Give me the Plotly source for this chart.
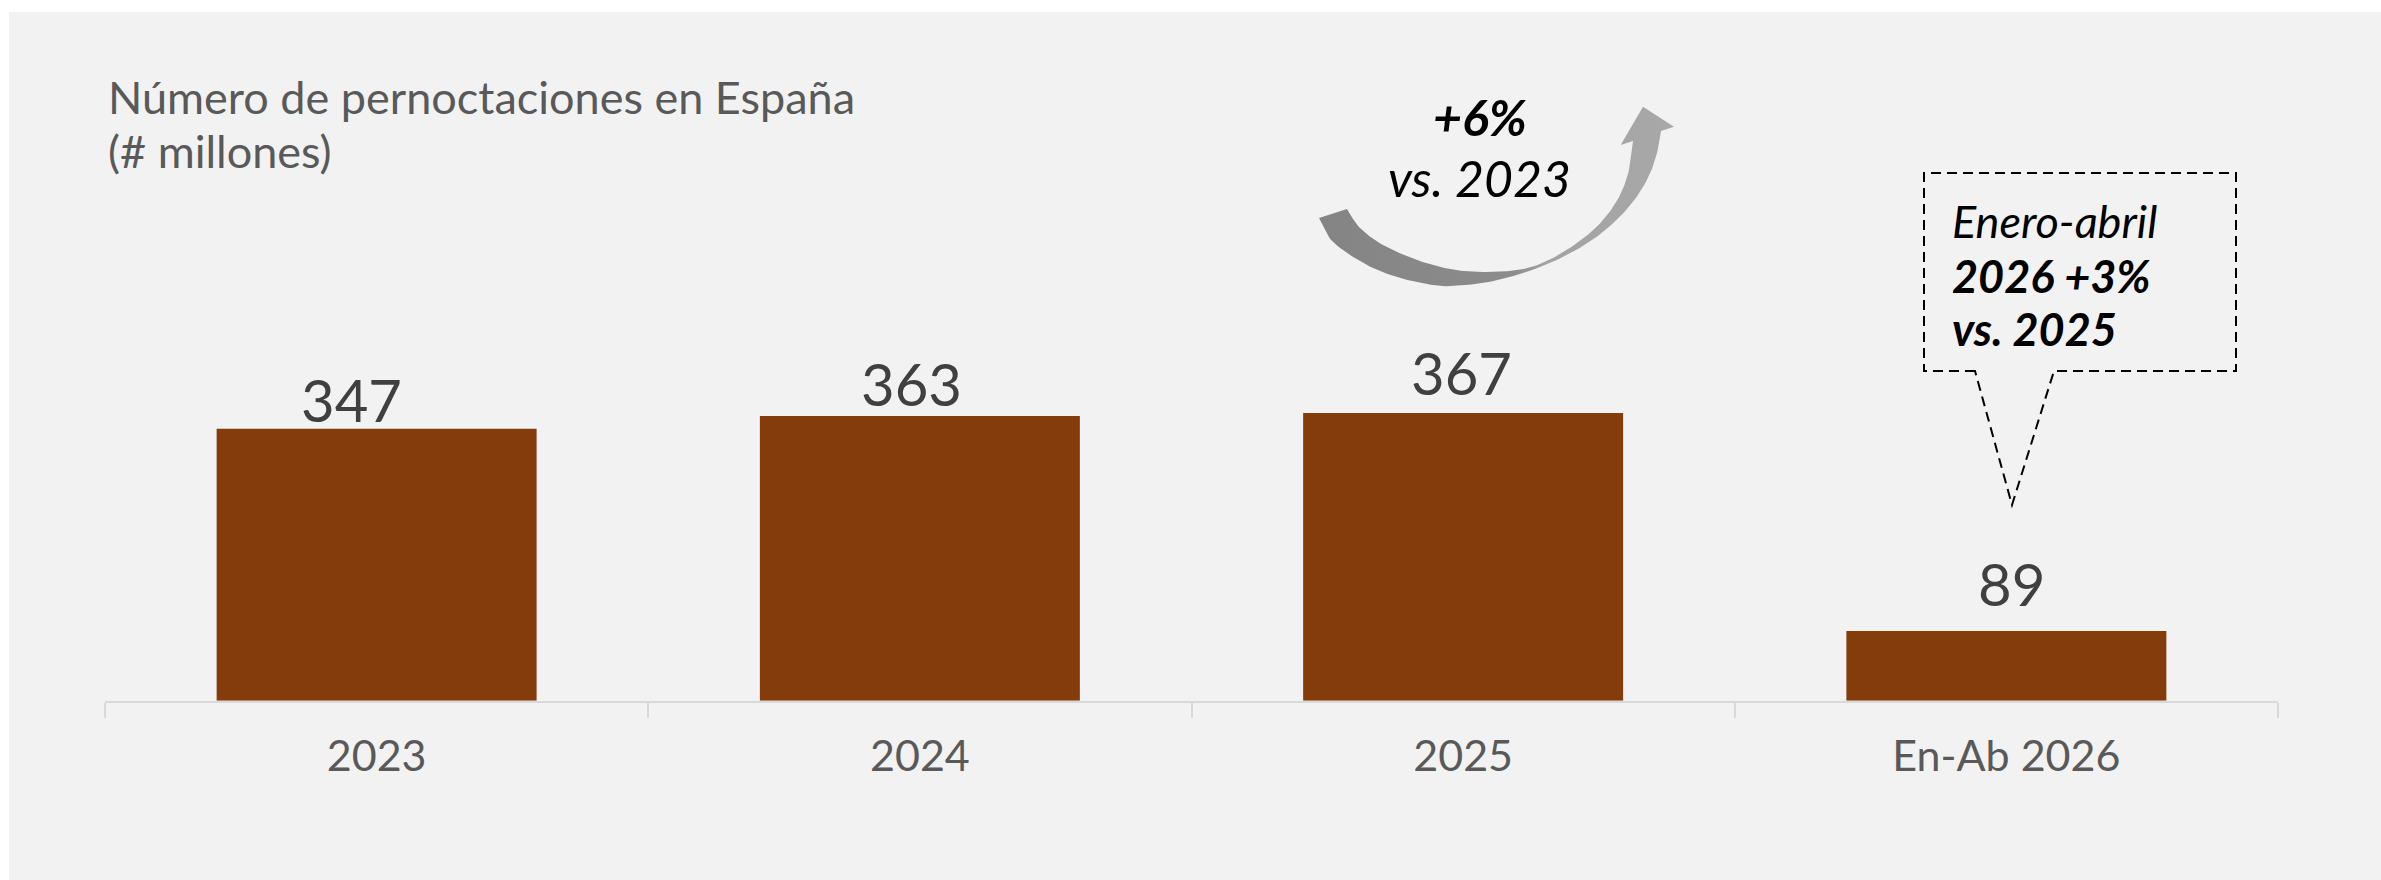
import numpy as np
import plotly.graph_objects as go

# ---- data -------------------------------------------------------------
categories = ["2023", "2024", "2025", "En-Ab 2026"]
pernoctaciones = [347, 363, 367, 89]          # millones de pernoctaciones

title_lines = ["Número de pernoctaciones en España", "(# millones)"]
growth_main = "<b><i>+6%</i></b>"
growth_sub = "<i>vs. 2023</i>"
callout_lines = ["<i>Enero-abril</i>", "<b><i>2026 +3%</i></b>", "<b><i>vs. 2025</i></b>"]

# ---- style ------------------------------------------------------------
W, H = 2381, 880
FONT = "Lato"
BAR_COLOR = "#843c0c"
PANEL = "#f2f2f2"
AXIS_GREY = "#d9d9d9"
TEXT_GREY = "#595959"
VALUE_GREY = "#404040"
label_lift = [-7, -4, 4, 11]        # vertical nudge of each value label (px)
label_nudge = [-25, -8, -2, 5]      # horizontal nudge of each value label (px)

# plot area (pixel geometry of the canvas)
X_LEFT, X_RIGHT = 105, 2278
Y_AXIS, Y_TOP = 700.7, 100
PX_PER_UNIT = 0.784
y_max = (Y_AXIS - Y_TOP) / PX_PER_UNIT

ASCENT = 0.987   # Lato ascender as a fraction of the font size


def top_for_baseline(baseline, size):
    """Top of an annotation box whose text sits on the given baseline."""
    return baseline - 1 - ASCENT * size


def catmull_rom(pts, n=12):
    """Smooth a polyline through the given points."""
    p = np.asarray(pts, dtype=float)
    p = np.vstack([p[0], p, p[-1]])
    out = []
    for i in range(1, len(p) - 2):
        p0, p1, p2, p3 = p[i - 1], p[i], p[i + 1], p[i + 2]
        for t in np.linspace(0, 1, n, endpoint=False):
            t2, t3 = t * t, t * t * t
            out.append(0.5 * ((2 * p1) + (-p0 + p2) * t
                              + (2 * p0 - 5 * p1 + 4 * p2 - p3) * t2
                              + (-p0 + 3 * p1 - 3 * p2 + p3) * t3))
    out.append(p[-2])
    return np.array(out)


# outline of the curved growth arrow (canvas pixels)
outer_edge = [(1319, 218), (1333, 242), (1367, 265), (1400, 278), (1433, 285),
              (1450, 286), (1483, 283), (1517, 275), (1550, 263), (1583, 246),
              (1610, 226), (1632, 203), (1648, 178), (1657, 153), (1661, 131)]
inner_edge = [(1347, 209), (1360, 228), (1383, 245), (1417, 260), (1450, 269),
              (1483, 272), (1517, 270), (1540, 264), (1565, 251), (1590, 233),
              (1608, 214), (1621, 193), (1629, 170), (1633, 141)]
arrow_head = [(1674, 126.7), (1643, 106.7), (1620.7, 145)]

outer = catmull_rom(outer_edge)
inner = catmull_rom(inner_edge)[::-1]
outline = np.vstack([outer, np.array(arrow_head), inner, outer[:1]])

fig = go.Figure()

fig.add_trace(go.Bar(
    x=categories, y=pernoctaciones,
    marker=dict(color=BAR_COLOR, line=dict(width=0)),
    hoverinfo="skip", xaxis="x", yaxis="y",
))

fig.add_trace(go.Scatter(
    x=outline[:, 0], y=outline[:, 1],
    mode="lines", fill="toself", line=dict(width=0),
    fillgradient=dict(type="horizontal",
                      colorscale=[[0, "#848484"], [0.55, "#8c8c8c"],
                                  [0.63, "#a3a3a3"], [1, "#a8a8a8"]]),
    hoverinfo="skip", xaxis="x2", yaxis="y2",
))

annotations = []
# value labels above the bars (x given as category index)
for i, (val, lift, nudge) in enumerate(zip(pernoctaciones, label_lift, label_nudge)):
    annotations.append(dict(
        x=i, y=val, xref="x", yref="y", text=str(val), showarrow=False,
        xanchor="center", yanchor="bottom", yshift=lift, xshift=nudge,
        font=dict(family=FONT, size=58, color=VALUE_GREY),
    ))

# chart title, one annotation per line
for line, baseline in zip(title_lines, [113.5, 167]):
    annotations.append(dict(
        x=106, y=top_for_baseline(baseline, 45), xref="x2", yref="y2",
        text=line, showarrow=False, xanchor="left", yanchor="top", align="left",
        font=dict(family=FONT, size=45, color=TEXT_GREY),
    ))

# growth labels inside the arrow
annotations.append(dict(
    x=1479.5, y=top_for_baseline(135.7, 50), xref="x2", yref="y2",
    text=growth_main, showarrow=False, xanchor="center", yanchor="top",
    font=dict(family=FONT, size=50, color="#000000"),
))
annotations.append(dict(
    x=1479, y=top_for_baseline(196, 50), xref="x2", yref="y2",
    text=growth_sub, showarrow=False, xanchor="center", yanchor="top",
    font=dict(family=FONT, size=50, color="#000000"),
))

# callout text
for line, baseline in zip(callout_lines, [237, 292, 345]):
    annotations.append(dict(
        x=1950, y=top_for_baseline(baseline, 45), xref="x2", yref="y2",
        text=line, showarrow=False, xanchor="left", yanchor="top", align="left",
        font=dict(family=FONT, size=45, color="#000000"),
    ))

shapes = [
    # grey panel behind the chart
    dict(type="rect", xref="paper", yref="paper", x0=9 / W, x1=1, y0=0, y1=1 - 12 / H,
         fillcolor=PANEL, line=dict(width=0), layer="below"),
    # dashed speech-bubble callout pointing at the last bar
    dict(type="path", xref="x2", yref="y2",
         path="M1975,371 L1924,371 L1924,173 L2236,173 L2236,371 L2054,371 L2012,505 Z",
         line=dict(color="#000000", width=2, dash="10px,6px"), layer="above"),
]

fig.update_layout(
    width=W, height=H,
    margin=dict(l=0, r=0, t=0, b=0, pad=0),
    paper_bgcolor="#ffffff", plot_bgcolor="rgba(0,0,0,0)",
    showlegend=False, bargap=0.411,
    font=dict(family=FONT, color=TEXT_GREY),
    xaxis=dict(
        domain=[X_LEFT / W, X_RIGHT / W], range=[-0.5, 3.5],
        type="category", showgrid=False, zeroline=False,
        showline=True, linecolor=AXIS_GREY, linewidth=2,
        ticks="outside", tickson="boundaries", ticklen=15,
        tickcolor=AXIS_GREY, tickwidth=2, ticklabelstandoff=17,
        tickfont=dict(family=FONT, size=43, color=TEXT_GREY),
        fixedrange=True,
    ),
    yaxis=dict(
        domain=[1 - Y_AXIS / H, 1 - Y_TOP / H], range=[0, y_max],
        visible=False, fixedrange=True,
    ),
    xaxis2=dict(domain=[0, 1], range=[0, W], anchor="y2", visible=False, fixedrange=True),
    yaxis2=dict(domain=[0, 1], range=[H, 0], anchor="x2", visible=False, fixedrange=True),
    annotations=annotations,
    shapes=shapes,
)

fig.write_html("out.html", config={"displayModeBar": False})
